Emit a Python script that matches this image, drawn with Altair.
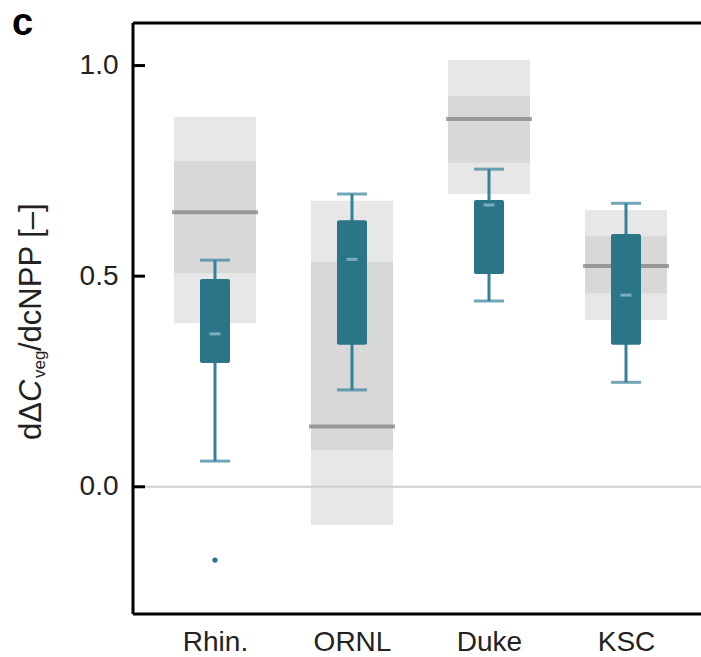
import altair as alt
import pandas as pd

# ---------------- data ----------------
sites = ["Rhin.", "ORNL", "Duke", "KSC"]
# model ensemble ranges (grey bands)
model_outer_lo = [0.388, -0.091, 0.695, 0.396]
model_outer_hi = [0.878, 0.679, 1.013, 0.657]
model_inner_lo = [0.507, 0.087, 0.769, 0.459]
model_inner_hi = [0.773, 0.534, 0.928, 0.595]
model_median = [0.652, 0.143, 0.873, 0.524]
# observation-based box plots
whisk_lo = [0.061, 0.230, 0.441, 0.248]
q1 = [0.294, 0.337, 0.505, 0.337]
med = [0.363, 0.540, 0.669, 0.455]
q3 = [0.493, 0.633, 0.681, 0.600]
whisk_hi = [0.538, 0.695, 0.754, 0.673]
outlier_site = ["Rhin."]
outlier_val = [-0.174]
y_ticks = [0.0, 0.5, 1.0]

df = pd.DataFrame({
    "site": sites,
    "olo": model_outer_lo, "ohi": model_outer_hi,
    "ilo": model_inner_lo, "ihi": model_inner_hi,
    "mmed": model_median,
    "wlo": whisk_lo, "q1": q1, "med": med, "q3": q3, "whi": whisk_hi,
})
df_out = pd.DataFrame({"site": outlier_site, "v": outlier_val})
df_ticks = pd.DataFrame({"v": y_ticks})
df_one = pd.DataFrame({"k": [0]})

W, H = 568, 591
FONT = "Liberation Sans"
TEAL = "#2B7589"
TEAL_W = "#35819A"
TXT = "#222222"

xscale = alt.Scale(type="point", range=[82, 493], padding=0)
yscale = alt.Scale(domain=[-0.302, 1.101], nice=False, zero=False)

x_axis = alt.Axis(title=None, labelFontSize=28, labelFont=FONT, labelColor=TXT,
                  ticks=False, domain=False, labelPadding=14, labelAngle=0, grid=False)
y_axis = alt.Axis(title=None, values=y_ticks, format=".1f", labelFontSize=28, labelFont=FONT,
                  labelColor=TXT, ticks=False, domain=False, grid=False, labelPadding=15)

X = alt.X("site:N", sort=sites, scale=xscale, axis=x_axis)

base = alt.Chart(df)

outer = base.mark_bar(size=82, color="#E7E7E7").encode(
    x=X, y=alt.Y("olo:Q", scale=yscale, axis=y_axis), y2="ohi:Q")
inner = base.mark_bar(size=82, color="#D8D8D8").encode(
    x=X, y=alt.Y("ilo:Q"), y2="ihi:Q")
zero = alt.Chart(df_one).mark_rule(color="#CFCFCF", strokeWidth=2).encode(
    y=alt.datum(0))
mmed = base.mark_tick(size=86, thickness=4, color="#7E7E7E").encode(
    x=X, y="mmed:Q")
whisk = base.mark_rule(color=TEAL_W, strokeWidth=3).encode(
    x=X, y="wlo:Q", y2="whi:Q")
cap_lo = base.mark_tick(size=30, thickness=3, color=TEAL_W).encode(x=X, y="wlo:Q")
cap_hi = base.mark_tick(size=30, thickness=3, color=TEAL_W).encode(x=X, y="whi:Q")
box = base.mark_bar(size=30, color=TEAL, cornerRadius=2).encode(
    x=X, y="q1:Q", y2="q3:Q")
medd = base.mark_tick(size=11, thickness=3, color="#9EC5D0").encode(x=X, y="med:Q")
outl = alt.Chart(df_out).mark_circle(size=28, color=TEAL, opacity=1).encode(
    x=X, y="v:Q")

# frame (left, top, bottom) and inward ticks
frame_l = alt.Chart(df_one).mark_rule(color="black", strokeWidth=3).encode(
    x=alt.value(0), y=alt.value(0), y2=alt.value(H))
frame_t = alt.Chart(df_one).mark_rule(color="black", strokeWidth=3).encode(
    x=alt.value(0), x2=alt.value(W + 5), y=alt.value(0))
frame_b = alt.Chart(df_one).mark_rule(color="black", strokeWidth=3).encode(
    x=alt.value(0), x2=alt.value(W + 5), y=alt.value(H))
ticks = alt.Chart(df_ticks).mark_rule(color="black", strokeWidth=3).encode(
    y="v:Q", x=alt.value(0), x2=alt.value(12))

# panel letter and y-axis title
panel = alt.Chart(df_one).mark_text(text="c", font=FONT, fontSize=38, fontWeight="bold",
                                    align="left", baseline="alphabetic", color="black").encode(
    x=alt.value(-121), y=alt.value(12))

tx = -92
TOP = 23
def title_piece(txt, y_abs, size=31, style="normal", dx=0):
    return alt.Chart(df_one).mark_text(text=txt, font=FONT, fontSize=size, fontStyle=style,
                                       angle=270, align="left", baseline="alphabetic",
                                       color=TXT).encode(
        x=alt.value(tx + dx), y=alt.value(y_abs - TOP))

t1 = title_piece("dΔ", 440)
t2 = title_piece("C", 402, style="italic")
t3 = title_piece("veg", 378, size=17, dx=4)
t4 = title_piece("/dcNPP [–]", 351)

chart = alt.layer(
    outer, inner, zero, mmed, whisk, cap_lo, cap_hi, box, medd, outl,
    frame_l, frame_t, frame_b, ticks, panel, t1, t2, t3, t4
).properties(
    width=W, height=H,
    autosize=alt.AutoSizeParams(type="none"),
    padding={"left": 133, "top": 23, "right": 0, "bottom": 43},
).configure_view(stroke=None).configure(background="white")

chart.save("out.html", embed_options={"renderer": "svg", "actions": False})
